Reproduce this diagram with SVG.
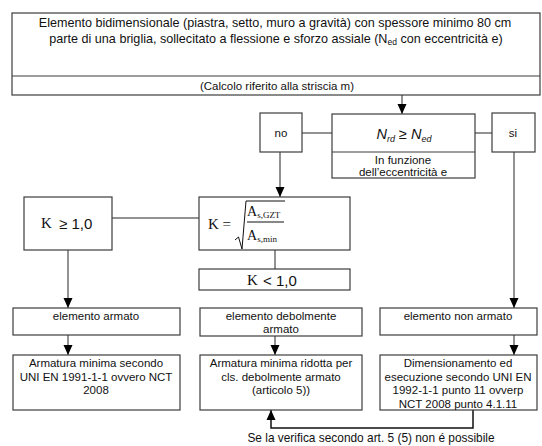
<svg xmlns="http://www.w3.org/2000/svg" width="542" height="446" viewBox="0 0 542 446">
<style>
.box{fill:#fff;stroke:#3c3c3c;stroke-width:1.2}
.t{font-family:"Liberation Sans",Arial,sans-serif;font-size:11.5px;fill:#111;text-anchor:middle}
.l{font-family:"Liberation Sans",Arial,sans-serif;fill:#111}
.s{font-family:"Liberation Serif","Times New Roman",serif;fill:#111}
.c{fill:none;stroke:#6e6e6e;stroke-width:1.5}
.fb{fill:none;stroke:#111;stroke-width:1.5}
.arr{marker-end:url(#ah)}
</style>
<defs>
<marker id="ah" markerUnits="userSpaceOnUse" markerWidth="10" markerHeight="10" viewBox="0 0 10 10" refX="10" refY="5" orient="auto">
<path d="M0,0.5 L10,5 L0,9.5 Z" fill="#000"/>
</marker>
</defs>
<rect width="542" height="446" fill="#fff"/>

<g id="connectors">
<line class="c arr" x1="402" y1="95" x2="402" y2="114"/>
<line class="c" x1="302" y1="133" x2="332" y2="133"/>
<line class="c" x1="475" y1="133" x2="492" y2="133"/>
<line class="c arr" x1="280" y1="152" x2="280" y2="197"/>
<line class="c" x1="112" y1="218" x2="199" y2="218"/>
<line class="c" x1="275" y1="250" x2="275" y2="269"/>
<line class="c arr" x1="68" y1="250" x2="68" y2="308"/>
<line class="c arr" x1="514" y1="152" x2="514" y2="308"/>
<line class="c arr" x1="68" y1="335" x2="68" y2="355"/>
<line class="c arr" x1="275" y1="336" x2="275" y2="355"/>
<line class="c arr" x1="514" y1="335" x2="514" y2="355"/>
<polyline class="fb arr" points="473,410 473,428 271,428 271,410"/>
</g>

<g id="top">
<rect class="box" x="12" y="13" width="528" height="82"/>
<line x1="12" y1="76" x2="540" y2="76" stroke="#3c3c3c" stroke-width="1.2"/>
<text class="t" x="275" y="27" style="font-size:12.6px">Elemento bidimensionale (piastra, setto, muro a gravità) con spessore minimo 80 cm</text>
<text class="t" x="276" y="43" style="font-size:12.6px">parte di una briglia, sollecitato a flessione e sforzo assiale (N<tspan font-size="8.5" dy="2">ed</tspan><tspan dy="-2"> con eccentricità e)</tspan></text>
<text class="t" x="277" y="90">(Calcolo riferito alla striscia m)</text>
</g>

<g id="check">
<rect class="box" x="332" y="114" width="143" height="64"/>
<line x1="332" y1="152" x2="475" y2="152" stroke="#3c3c3c" stroke-width="1.2"/>
<text class="t" x="404" y="139" style="font-size:14.5px;font-style:italic">N<tspan font-size="9" dy="3">rd</tspan><tspan dy="-3"> ≥ N</tspan><tspan font-size="9" dy="3">ed</tspan></text>
<text class="t" x="403" y="164">In funzione</text>
<text class="t" x="403" y="176">dell’eccentricità e</text>
</g>

<g id="no">
<rect class="box" x="260" y="113" width="42" height="39"/>
<text class="t" x="281" y="137">no</text>
</g>

<g id="si">
<rect class="box" x="492" y="113" width="43" height="39"/>
<text class="t" x="513" y="137">si</text>
</g>

<g id="kge">
<rect class="box" x="24" y="197" width="88" height="53"/>
<text class="s" x="41" y="228" font-size="15">K</text>
<text class="l" x="59" y="229" font-size="15">≥ 1,0</text>
</g>

<g id="kformula">
<rect class="box" x="199" y="197" width="151" height="53"/>
<text class="s" x="208" y="229" font-size="15">K =</text>
<path d="M235,240 L238.5,237 L242,249 L246,201 L285,201" fill="none" stroke="#111" stroke-width="1"/>
<line x1="247" y1="222" x2="284" y2="222" stroke="#111" stroke-width="1"/>
<text class="s" x="247" y="216" font-size="14">A<tspan font-size="9" dy="2">s,GZT</tspan></text>
<text class="s" x="247" y="240" font-size="14">A<tspan font-size="9" dy="2">s,min</tspan></text>
</g>

<g id="klt">
<rect class="box" x="199" y="269" width="151" height="21"/>
<text class="s" x="247" y="285" font-size="15">K</text>
<text class="l" x="263" y="286" font-size="15">&lt; 1,0</text>
</g>

<g id="armato">
<rect class="box" x="13" y="308" width="167" height="27"/>
<text class="t" x="96" y="320">elemento armato</text>
</g>

<g id="debole">
<rect class="box" x="200" y="308" width="162" height="28"/>
<text class="t" x="281" y="320">elemento debolmente</text>
<text class="t" x="281" y="333">armato</text>
</g>

<g id="nonarmato">
<rect class="box" x="380" y="308" width="157" height="27"/>
<text class="t" x="458" y="320">elemento non armato</text>
</g>

<g id="armmin">
<rect class="box" x="13" y="355" width="167" height="55"/>
<text class="t" x="96" y="367">Armatura minima secondo</text>
<text class="t" x="96" y="380.5">UNI EN 1991-1-1 ovvero NCT</text>
<text class="t" x="96" y="394">2008</text>
</g>

<g id="armrid">
<rect class="box" x="200" y="355" width="162" height="55"/>
<text class="t" x="281" y="367">Armatura minima ridotta per</text>
<text class="t" x="281" y="380.5">cls. debolmente armato</text>
<text class="t" x="281" y="394">(articolo 5))</text>
</g>

<g id="dimens">
<rect class="box" x="380" y="355" width="157" height="55"/>
<text class="t" x="458" y="367">Dimensionamento ed</text>
<text class="t" x="458" y="380.5">esecuzione secondo UNI EN</text>
<text class="t" x="458" y="394">1992-1-1 punto 11 ovverp</text>
<text class="t" x="458" y="407.5">NCT 2008 punto 4.1.11</text>
</g>

<g id="note">
<text class="t" x="371" y="442" style="font-size:11.9px">Se la verifica secondo art. 5 (5) non é possibile</text>
</g>
</svg>
